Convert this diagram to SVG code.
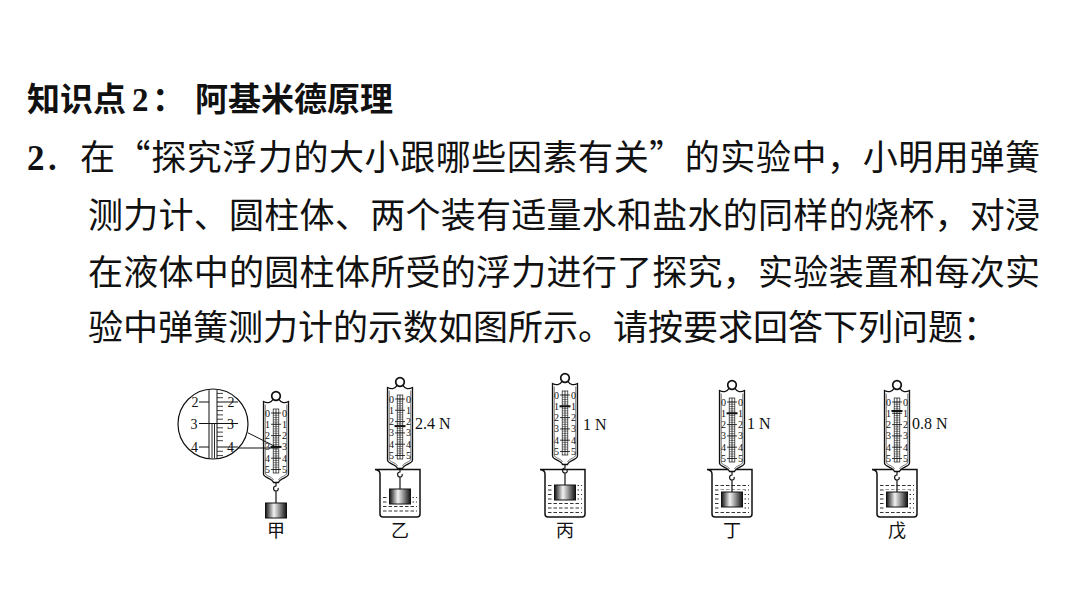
<svg xmlns="http://www.w3.org/2000/svg" xmlns:xlink="http://www.w3.org/1999/xlink" width="1066" height="600" viewBox="0 0 1066 600">
<style>
.h{font-family:"Noto Sans CJK SC","Noto Sans",sans-serif;font-weight:bold;font-size:33px;fill:#111}
.t{font-family:"Noto Sans CJK SC","Liberation Serif",sans-serif;font-size:35px;fill:#111}
.num{font-family:"Liberation Serif",serif;font-weight:bold}
.n{font-family:"Liberation Serif",serif;font-size:10px;fill:#111;text-anchor:middle}
.m{font-family:"Liberation Serif",serif;font-size:14px;fill:#111;text-anchor:middle}
.r{font-family:"Liberation Serif",serif;font-size:16px;fill:#111}
.c{font-family:"Noto Sans CJK SC",sans-serif;font-size:18px;fill:#111;text-anchor:middle}
.ln{stroke:#111;fill:none}
.ptr{stroke:#111;stroke-width:2}
.wat{stroke:#333;stroke-width:1.2;stroke-dasharray:3.5 2}
</style>
<defs>
<linearGradient id="cyl" x1="0" y1="0" x2="1" y2="0">
<stop offset="0" stop-color="#111"/>
<stop offset="0.4" stop-color="#f2f2f2"/>
<stop offset="0.6" stop-color="#aaa"/>
<stop offset="1" stop-color="#111"/>
</linearGradient>
<clipPath id="magclip"><circle cx="213" cy="424" r="34.3"/></clipPath>
<g id="scale">
<path d="M-3,3.4 C-5,7 -9,7.5 -12.5,5.5 L-12.5,78 C-12.5,82 -3.5,82 -2.5,86.5 L2.5,86.5 C3.5,82 12.5,82 12.5,78 L12.5,5.5 C9,7.5 5,7 3,3.4 Z" fill="#fff" stroke="#111" stroke-width="1.3"/>
<path d="M-10.8,8.5 L-10.8,77 C-10.8,80 -4,80.5 -2.5,84 M10.8,8.5 L10.8,77 C10.8,80 4,80.5 2.5,84" class="ln" stroke-width="0.6"/>
<circle cx="0" cy="0" r="4.3" fill="#fff" stroke="#111" stroke-width="1.7"/>
<rect x="-2.8" y="13" width="5.6" height="64" fill="#fff" stroke="#111" stroke-width="0.7"/>
<line x1="0" y1="13" x2="0" y2="77" class="ln" stroke-width="0.8"/>
<path class="ln" stroke-width="0.5" d="M-2.8,17h5.6m-5.6,2.26h5.6m-5.6,2.26h5.6m-5.6,2.26h5.6m-5.6,2.26h5.6m-5.6,2.26h5.6m-5.6,2.26h5.6m-5.6,2.26h5.6m-5.6,2.26h5.6m-5.6,2.26h5.6m-5.6,2.26h5.6m-5.6,2.26h5.6m-5.6,2.26h5.6m-5.6,2.26h5.6m-5.6,2.26h5.6m-5.6,2.26h5.6m-5.6,2.26h5.6m-5.6,2.26h5.6m-5.6,2.26h5.6m-5.6,2.26h5.6m-5.6,2.26h5.6m-5.6,2.26h5.6m-5.6,2.26h5.6m-5.6,2.26h5.6m-5.6,2.26h5.6m-5.6,2.26h5.6"/>
<path class="ln" stroke-width="0.8" d="M-5,17h10M-5,28.3h10M-5,39.6h10M-5,50.9h10M-5,62.2h10M-5,73.5h10"/>
<text class="n" x="-8.6" y="20.5">0</text><text class="n" x="8.6" y="20.5">0</text>
<text class="n" x="-8.6" y="31.8">1</text><text class="n" x="8.6" y="31.8">1</text>
<text class="n" x="-8.6" y="43.1">2</text><text class="n" x="8.6" y="43.1">2</text>
<text class="n" x="-8.6" y="54.4">3</text><text class="n" x="8.6" y="54.4">3</text>
<text class="n" x="-8.6" y="65.7">4</text><text class="n" x="8.6" y="65.7">4</text>
<text class="n" x="-8.6" y="77">5</text><text class="n" x="8.6" y="77">5</text>
<rect x="-12.5" y="105" width="25" height="19" fill="#fff"/>
<path class="ln" stroke-width="1.2" d="M0,86.5v3.5 c-3.2,0 -3.2,5 0,5 c2.2,0 2.6,-1.8 2,-3 M0,95v12"/>
<rect x="-10.5" y="107" width="21" height="15" fill="url(#cyl)" stroke="#111" stroke-width="1"/>
</g>
<path id="beaker" d="M-25,469.5 L20,469.5 L20,514 Q20,517 17,517 L-17,517 Q-20,517 -20,514 L-20,474 Q-20,470 -25,469.5 Z" fill="#fff" stroke="#111" stroke-width="1.5"/>
<path id="water485" class="wat" d="M-17,485.5h34M-17,490h34M-17,494.5h34M-17,499h34M-17,503.5h34M-17,508h34M-17,512.5h34"/>
<path id="water497" class="wat" d="M-17,497.5h34M-17,502h34M-17,506.5h34M-17,511h34"/>
</defs>

<g id="heading">
<text class="h" y="111"><tspan x="27">知识点</tspan><tspan x="132" font-family="Liberation Serif">2</tspan><tspan x="152">：</tspan><tspan x="195">阿基米德原理</tspan></text>
</g>
<g id="question">
<text class="t" y="170"><tspan x="27" class="num">2</tspan><tspan x="44">．</tspan></text>
<text class="t" x="80" y="170" textLength="960" lengthAdjust="spacing">在“探究浮力的大小跟哪些因素有关”的实验中，小明用弹簧</text>
<text class="t" x="88" y="228" textLength="952" lengthAdjust="spacing">测力计、圆柱体、两个装有适量水和盐水的同样的烧杯，对浸</text>
<text class="t" x="88" y="285" textLength="952" lengthAdjust="spacing">在液体中的圆柱体所受的浮力进行了探究，实验装置和每次实</text>
<text class="t" x="88" y="340">验中弹簧测力计的示数如图所示。请按要求回答下列问题：</text>
</g>

<g id="fig-jia">
<g id="magnifier">
<circle cx="213" cy="424" r="35" fill="#fff"/>
<g clip-path="url(#magclip)">
<path class="ln" stroke-width="1" d="M199,402h39M199,447h39"/>
<rect x="209" y="388" width="8" height="74" fill="#fff" stroke="#111" stroke-width="1"/>
<path class="ln" stroke-width="0.8" d="M217,389.1h6M217,393.4h6M217,397.7h6M217,406.3h6M217,410.6h6M217,414.9h6M217,419.2h6M217,427.8h6M217,432.1h6M217,436.4h6M217,440.7h6M217,451.3h6M217,455.6h6M217,459.9h6"/>
<path class="ln" stroke-width="0.9" d="M212,423.5V462M214.5,423.5V462"/>
<path class="ln" stroke-width="1.1" d="M199,423.5h39"/>
<text class="m" x="195" y="407">2</text><text class="m" x="231" y="407">2</text>
<text class="m" x="194" y="428.5">3</text><text class="m" x="230.5" y="428.5">3</text>
<text class="m" x="194.5" y="452">4</text><text class="m" x="230.5" y="452">4</text>
</g>
<circle cx="213" cy="424" r="35" class="ln" stroke-width="1.2"/>
</g>
<use href="#scale" transform="translate(276,396)"/>
<line class="ptr" x1="270.5" y1="446.9" x2="281.5" y2="446.9"/>
<text class="c" x="276" y="537">甲</text>
</g>

<g id="connectors">
<path class="ln" stroke-width="1" d="M247.7,432.7L276,446.9M238.5,448H278"/>
</g>

<g id="fig-yi">
<use href="#beaker" x="400"/>
<use href="#water497" x="400"/>
<use href="#scale" transform="translate(400,382)"/>
<line class="ptr" x1="394.5" y1="426.1" x2="405.5" y2="426.1"/>
<text class="r" x="415" y="428.5">2.4 N</text>
<text class="c" x="400" y="537">乙</text>
</g>

<g id="fig-bing">
<use href="#beaker" x="565"/>
<use href="#water485" x="565"/>
<use href="#scale" transform="translate(565,378)"/>
<line class="ptr" x1="559.5" y1="406.3" x2="570.5" y2="406.3"/>
<text class="r" x="583" y="430">1 N</text>
<text class="c" x="565" y="537">丙</text>
</g>

<g id="fig-ding">
<use href="#beaker" x="732"/>
<use href="#water485" x="732"/>
<use href="#scale" transform="translate(732,385)"/>
<line class="ptr" x1="726.5" y1="413.3" x2="737.5" y2="413.3"/>
<text class="r" x="747" y="428.5">1 N</text>
<text class="c" x="732" y="537">丁</text>
</g>

<g id="fig-wu">
<use href="#beaker" x="897"/>
<use href="#water485" x="897"/>
<use href="#scale" transform="translate(897,385)"/>
<line class="ptr" x1="891.5" y1="411" x2="902.5" y2="411"/>
<text class="r" x="912" y="428.5">0.8 N</text>
<text class="c" x="897" y="537">戊</text>
</g>
</svg>
